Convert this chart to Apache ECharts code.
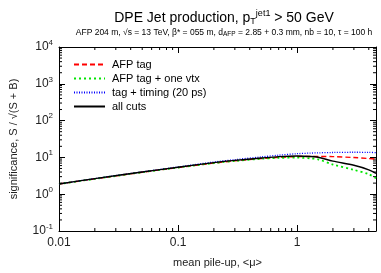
<!DOCTYPE html>
<html>
<head>
<meta charset="utf-8">
<script src="https://cdn.jsdelivr.net/npm/echarts@6/dist/echarts.min.js"></script>
<style>
  html, body { margin: 0; padding: 0; background: #fff; }
  #chart { width: 381px; height: 273px; }
</style>
</head>
<body>
<div id="chart"></div>
<script>
// mean pile-up values
const mu = [0.01, 0.02, 0.05, 0.1, 0.2, 0.3, 0.5, 0.7, 1, 1.3, 1.5, 2, 3, 4, 4.6];

// significance curves
const afpTag    = [1.9, 2.6, 3.95, 5.3, 7.0, 8.1, 9.3, 10.0, 10.5, 10.6, 10.6, 10.5, 9.9, 9.3, 9.0];
const oneVtx    = [1.9, 2.6, 3.95, 5.3, 7.0, 8.0, 9.2, 9.7, 9.9, 9.4, 8.9, 6.4, 4.6, 3.5, 2.7];
const timing    = [1.9, 2.65, 4.05, 5.5, 7.5, 8.7, 10.3, 11.5, 12.6, 13.1, 13.3, 13.6, 13.8, 13.7, 13.5];
const allCuts   = [1.9, 2.65, 4.0, 5.4, 7.2, 8.3, 9.6, 10.5, 10.9, 10.6, 10.1, 7.9, 6.1, 4.6, 3.7];

// minor tick positions (log decades)
const xMinor = [0.02, 0.03, 0.04, 0.05, 0.06, 0.07, 0.08, 0.09,
                0.2, 0.3, 0.4, 0.5, 0.6, 0.7, 0.8, 0.9, 2, 3, 4];
const yMinor = [];
[0.1, 1, 10, 100, 1000].forEach(d => {
  for (let k = 2; k <= 9; k++) yMinor.push(+(d * k).toPrecision(3));
});

const X_MIN = 0.01, X_MAX = 4.6, Y_MIN = 0.1, Y_MAX = 10000;

const zip = (xs, ys) => xs.map((x, i) => [x, ys[i]]);

const chart = echarts.init(document.getElementById('chart'));

const font = 'Liberation Sans, Arial, sans-serif';

const supRich = {
  b: { fontSize: 12, color: '#222', fontFamily: font },
  s: { fontSize: 8, color: '#222', fontFamily: font, padding: [0, 0, 9, 0] }
};

function line(name, data, color, type, width) {
  return {
    name: name,
    type: 'line',
    data: zip(mu, data),
    smooth: 0.3,
    symbol: 'none',
    lineStyle: { color: color, type: type, width: width },
    itemStyle: { color: color },
    z: 3
  };
}

function minorTicks(values, isX) {
  return {
    type: 'custom',
    silent: true,
    clip: false,
    data: values.map(v => isX ? [v, 1] : [1, v]),
    renderItem: function (params, api) {
      const v = api.value(isX ? 0 : 1);
      const len = 3;
      let a, b;
      if (isX) {
        a = api.coord([v, Y_MIN]);
        b = api.coord([v, Y_MAX]);
        return {
          type: 'group',
          children: [
            { type: 'line', shape: { x1: a[0], y1: a[1], x2: a[0], y2: a[1] - len }, style: { stroke: '#000', lineWidth: 1 } },
            { type: 'line', shape: { x1: b[0], y1: b[1], x2: b[0], y2: b[1] + len }, style: { stroke: '#000', lineWidth: 1 } }
          ]
        };
      }
      a = api.coord([X_MIN, v]);
      b = api.coord([X_MAX, v]);
      return {
        type: 'group',
        children: [
          { type: 'line', shape: { x1: a[0], y1: a[1], x2: a[0] + len, y2: a[1] }, style: { stroke: '#000', lineWidth: 1 } },
          { type: 'line', shape: { x1: b[0], y1: b[1], x2: b[0] - len, y2: b[1] }, style: { stroke: '#000', lineWidth: 1 } }
        ]
      };
    }
  };
}

const axisLine = { show: true, lineStyle: { color: '#000', width: 1 } };
const majorTick = { show: true, inside: true, length: 6, lineStyle: { color: '#000', width: 1 } };

const option = {
  animation: false,
  backgroundColor: '#fff',
  title: [{
    text: 'DPE Jet production, p{sub|T}{sup|jet1} > 50 GeV',
    left: 219, top: 4, textAlign: 'center',
    textStyle: {
      fontSize: 14, fontWeight: 'normal', color: '#000', fontFamily: font,
      rich: {
        sub: { fontSize: 9, fontFamily: font, color: '#000', padding: [7, 0, 0, 0] },
        sup: { fontSize: 9, fontFamily: font, color: '#000', padding: [0, 0, 9, 0] }
      }
    }
  }, {
    text: 'AFP 204 m, √s = 13 TeV, β* = 055 m, d{sub|AFP} = 2.85 + 0.3 mm, nb = 10, τ = 100 h',
    left: 219, top: 22, textAlign: 'center',
    textStyle: {
      fontSize: 8.5, fontWeight: 'normal', color: '#000', fontFamily: font,
      rich: {
        sub: { fontSize: 6.5, fontFamily: font, color: '#000', padding: [4, 0, 0, 0] }
      }
    }
  }],
  legend: {
    data: ['AFP tag', 'AFP tag + one vtx', 'tag + timing (20 ps)', 'all cuts'],
    orient: 'vertical',
    left: 68, top: 54,
    itemWidth: 31, itemHeight: 10, itemGap: 3,
    itemStyle: { opacity: 0 },
    textStyle: { fontSize: 11, color: '#000', fontFamily: font, padding: [0, 0, 0, 2] },
    selectedMode: false
  },
  grid: { left: 58, right: 5, top: 47, bottom: 40 },
  xAxis: [{
    type: 'log', logBase: 10, min: X_MIN, max: X_MAX,
    name: 'mean pile-up, <μ>', nameLocation: 'middle', nameGap: 26,
    nameTextStyle: { fontSize: 11, color: '#222', fontFamily: font },
    axisLine: axisLine, axisTick: majorTick,
    axisLabel: {
      fontSize: 12, color: '#222', fontFamily: font, margin: 6,
      showMaxLabel: false,
      formatter: v => {
        const e = Math.log10(v);
        if (Math.abs(e - Math.round(e)) > 1e-6) return '';
        return String(+v.toPrecision(3));
      }
    },
    splitLine: { show: false }
  }, {
    type: 'log', logBase: 10, min: X_MIN, max: X_MAX, position: 'top',
    axisLine: axisLine, axisTick: majorTick, axisLabel: { show: false }, splitLine: { show: false }
  }],
  yAxis: [{
    type: 'log', logBase: 10, min: Y_MIN, max: Y_MAX,
    name: 'significance, S / √(S + B)', nameLocation: 'middle', nameGap: 40,
    nameTextStyle: { fontSize: 11, color: '#222', fontFamily: font },
    axisLine: axisLine, axisTick: majorTick,
    axisLabel: {
      margin: 6, rich: supRich,
      formatter: v => '{b|10}{s|' + Math.round(Math.log10(v)) + '}'
    },
    splitLine: { show: false }
  }, {
    type: 'log', logBase: 10, min: Y_MIN, max: Y_MAX, position: 'right',
    axisLine: axisLine, axisTick: majorTick, axisLabel: { show: false }, splitLine: { show: false }
  }],
  series: [
    line('AFP tag', afpTag, '#ff0000', [5, 3], 1.4),
    line('AFP tag + one vtx', oneVtx, '#00e600', [2, 3], 1.8),
    line('tag + timing (20 ps)', timing, '#0000ff', [1, 1.5], 1.3),
    line('all cuts', allCuts, '#000000', 'solid', 1.4),
    minorTicks(xMinor, true),
    minorTicks(yMinor, false)
  ]
};

chart.setOption(option);
</script>
</body>
</html>
